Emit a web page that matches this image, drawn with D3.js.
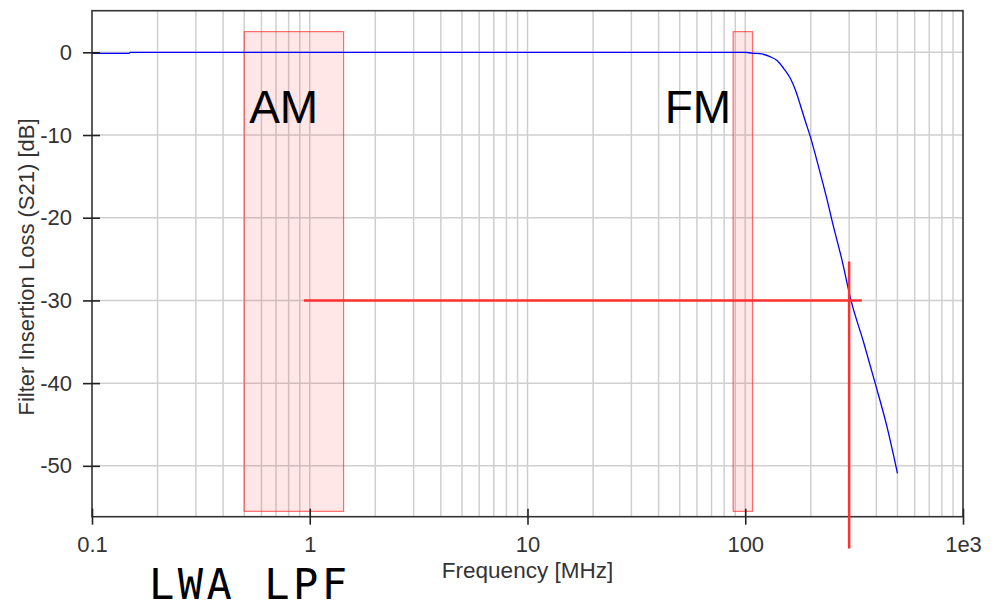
<!DOCTYPE html>
<html><head><meta charset="utf-8">
<script src="https://cdn.jsdelivr.net/npm/d3@7"></script>
<style>
html,body{margin:0;padding:0;background:#fff;}
svg{display:block;}
</style></head>
<body>
<script>
// ---- data ----
const freqMHz = [0.1, 0.148, 0.15, 1, 10, 100, 107, 119, 130, 140, 150, 161, 170, 179, 188, 199, 210, 225, 241, 250, 278, 306, 349, 395, 447, 500];
const s21dB   = [-0.12, -0.12, 0, 0, 0, 0, -0.1, -0.2, -0.53, -1.0, -1.94, -3.14, -4.56, -6.37, -8.19, -10.2, -12.4, -15.4, -18.5, -20.3, -25.1, -30, -35, -40, -45.2, -50.9];
const bands = [
  {name: "AM", f0: 0.5, f1: 1.43, top: 2.5, bottom: -55.5},
  {name: "FM", f0: 88, f1: 108, top: 2.5, bottom: -55.5}
];
const markerH = {f0: 0.94, f1: 343, level: -30};
const markerV = {f: 300, top: -25.3, bottom: -60};
const xTickValues = [0.1, 1, 10, 100, 1000];
const xTickLabels = ["0.1", "1", "10", "100", "1e3"];
const yTickValues = [0, -10, -20, -30, -40, -50];
const yTickLabels = ["0", "-10", "-20", "-30", "-40", "-50"];
const xTitle = "Frequency [MHz]";
const yTitle = "Filter Insertion Loss (S21) [dB]";
const caption = "LWA LPF";

// ---- layout ----
const W = 995, H = 607;
const L = 92, R = 963, T = 10.7, B = 516.7;
const FONT = "Liberation Sans, Arial, Helvetica, sans-serif";

const svg = d3.select("body").append("svg").attr("width", W).attr("height", H);
const x = d3.scaleLog().domain([0.1, 1000]).range([L, R]);
const y = d3.scaleLinear().domain([-56.15, 5.03]).range([B, T]);

// grid
const minor = [];
for (let d = -1; d < 3; d++) for (let k = 1; k <= 9; k++) minor.push(k * Math.pow(10, d));
const grid = svg.append("g").attr("stroke", "#cfcfcf").attr("stroke-width", 1.5);
grid.selectAll("line.gx").data(minor.filter(v => v > 0.1)).enter().append("line")
  .attr("x1", d => x(d)).attr("x2", d => x(d)).attr("y1", T).attr("y2", B);
grid.selectAll("line.gy").data(yTickValues).enter().append("line")
  .attr("x1", L).attr("x2", R).attr("y1", d => y(d)).attr("y2", d => y(d));

// bands
svg.append("g").selectAll("rect").data(bands).enter().append("rect")
  .attr("x", d => x(d.f0)).attr("width", d => x(d.f1) - x(d.f0))
  .attr("y", d => y(d.top)).attr("height", d => y(d.bottom) - y(d.top))
  .attr("fill", "rgba(255,60,60,0.12)").attr("stroke", "rgba(255,30,30,0.65)").attr("stroke-width", 1.2);

// curve
const pts = freqMHz.map((f, i) => [f, s21dB[i]]);
svg.append("path").datum(pts)
  .attr("d", d3.line().x(d => x(d[0])).y(d => y(d[1])).curve(d3.curveMonotoneX))
  .attr("fill", "none").attr("stroke", "#0000ff").attr("stroke-width", 1.3);

// frame
svg.append("rect").attr("x", L).attr("y", T).attr("width", R - L).attr("height", B - T)
  .attr("fill", "none").attr("stroke", "#333").attr("stroke-width", 1.6);

// axes
const xAxis = d3.axisBottom(x).tickValues(xTickValues)
  .tickFormat((d, i) => xTickLabels[i]).tickSizeInner(8).tickSizeOuter(0).tickPadding(12);
const gx = svg.append("g").attr("transform", `translate(0,${B})`).call(xAxis);
gx.select(".domain").remove();
gx.selectAll(".tick line").attr("y1", -8).attr("y2", 8).attr("stroke", "#222").attr("stroke-width", 1.6);
gx.selectAll(".tick text").attr("font-family", FONT).attr("font-size", 22).attr("fill", "#333");

const yAxis = d3.axisLeft(y).tickValues(yTickValues)
  .tickFormat((d, i) => yTickLabels[i]).tickSizeInner(8).tickSizeOuter(0).tickPadding(12);
const gy = svg.append("g").attr("transform", `translate(${L},0)`).call(yAxis);
gy.select(".domain").remove();
gy.selectAll(".tick line").attr("x1", -9).attr("x2", 8).attr("stroke", "#222").attr("stroke-width", 1.6);
gy.selectAll(".tick text").attr("font-family", FONT).attr("font-size", 22).attr("fill", "#333");

// titles
svg.append("text").attr("x", (L + R) / 2).attr("y", 578).attr("text-anchor", "middle")
  .attr("font-family", FONT).attr("font-size", 22.5).attr("fill", "#333").text(xTitle);
svg.append("text").attr("transform", `translate(34,267) rotate(-90)`).attr("text-anchor", "middle")
  .attr("font-family", FONT).attr("font-size", 22).attr("fill", "#333").text(yTitle);

// markers
svg.append("line").attr("x1", x(markerH.f0)).attr("x2", x(markerH.f1))
  .attr("y1", y(markerH.level)).attr("y2", y(markerH.level))
  .attr("stroke", "#ff3030").attr("stroke-width", 2.5);
svg.append("line").attr("x1", x(markerV.f)).attr("x2", x(markerV.f))
  .attr("y1", y(markerV.top)).attr("y2", y(markerV.bottom))
  .attr("stroke", "#ff3030").attr("stroke-width", 2.5);

// band labels
svg.append("text").attr("x", x(bands[0].f0) + 5).attr("y", 123)
  .attr("font-family", FONT).attr("font-size", 46).attr("fill", "#000").text(bands[0].name);
svg.append("text").attr("x", x(bands[1].f0) - 2).attr("y", 123).attr("text-anchor", "end")
  .attr("font-family", FONT).attr("font-size", 46).attr("fill", "#000").text(bands[1].name);

// caption
svg.append("text").attr("x", 149).attr("y", 599)
  .attr("font-family", "DejaVu Sans Mono, monospace").attr("font-size", 42)
  .attr("textLength", 198).attr("lengthAdjust", "spacing").attr("fill", "#000").text(caption);
</script>
</body></html>
